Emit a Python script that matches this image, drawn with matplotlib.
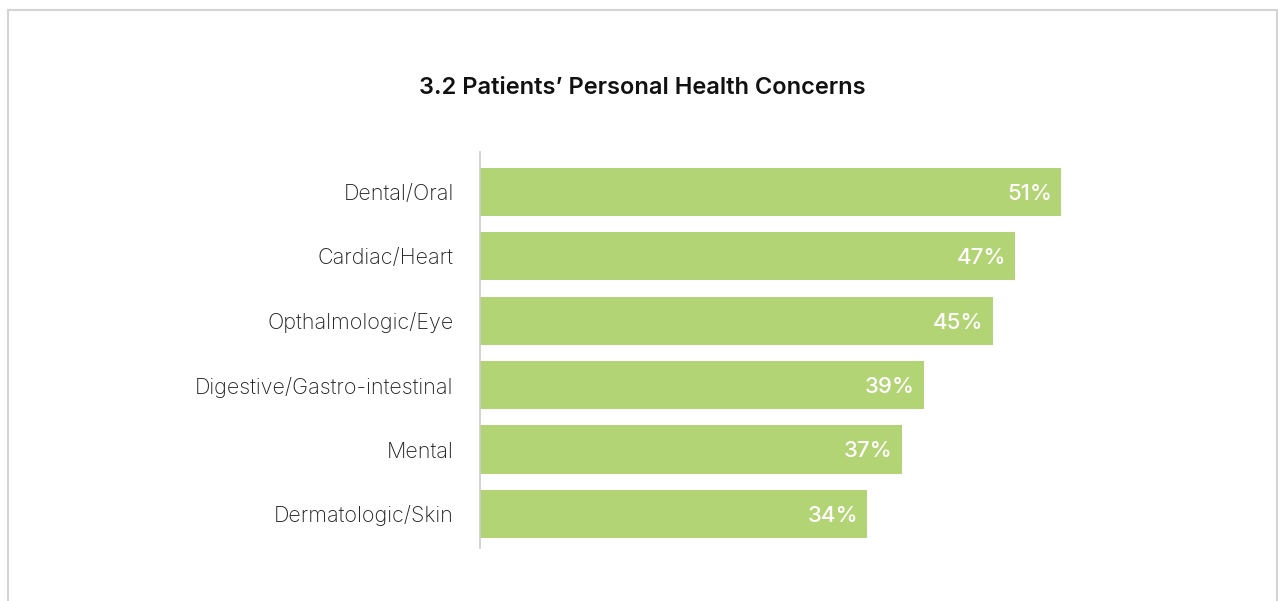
import matplotlib
matplotlib.use("Agg")
import matplotlib.pyplot as plt
from matplotlib.lines import Line2D

categories = ["Dental/Oral", "Cardiac/Heart", "Opthalmologic/Eye",
              "Digestive/Gastro-intestinal", "Mental", "Dermatologic/Skin"]
values = [51, 47, 45, 39, 37, 34]
value_labels = ["51%", "47%", "45%", "39%", "37%", "34%"]

W, H = 1278, 601
fig = plt.figure(figsize=(W / 100, H / 100), dpi=100)
fig.patch.set_facecolor("white")

# light frame around the panel
frame_color = "#d4d4d4"
fig.add_artist(Line2D([8 / W, 8 / W], [0, 1 - 9.5 / H], transform=fig.transFigure, color=frame_color, lw=1.5))
fig.add_artist(Line2D([8 / W, 1277 / W], [1 - 9.5 / H, 1 - 9.5 / H], transform=fig.transFigure, color=frame_color, lw=1.5))
fig.add_artist(Line2D([1277 / W, 1277 / W], [0, 1 - 9.5 / H], transform=fig.transFigure, color=frame_color, lw=1.5))

ax_left, ax_right = 480, 1240
ax_top, ax_bottom = 152, 548
ax = fig.add_axes([ax_left / W, 1 - ax_bottom / H, (ax_right - ax_left) / W, (ax_bottom - ax_top) / H])

px_per_unit = (1061 - 480) / 51
ax.set_xlim(0, (ax_right - ax_left) / px_per_unit)
ax.set_ylim(5.53, -0.62)

bar_color = "#b3d475"
y = list(range(len(categories)))
ax.barh(y, values, height=0.75, color=bar_color)

for yi, v, lab in zip(y, values, value_labels):
    ax.text(v - 0.8, yi + 0.03, lab, ha="right", va="center", color="white",
            fontsize=16, fontweight="medium", family="Inter")

ax.set_yticks(y)
ax.set_yticklabels(categories, fontsize=15.5, family="Inter", fontweight="light", color="#222222")
ax.tick_params(axis="y", length=0, pad=19)
ax.set_xticks([])
for s in ["top", "right", "bottom"]:
    ax.spines[s].set_visible(False)
ax.spines["left"].set_color("#cccccc")
ax.spines["left"].set_linewidth(1.2)

fig.text(642 / W, 1 - 88 / H, "3.2 Patients\u2019 Personal Health Concerns",
         ha="center", va="center", fontsize=17, fontweight="semibold",
         family="Inter", color="#111111")

fig.savefig("out.png", dpi=100)
